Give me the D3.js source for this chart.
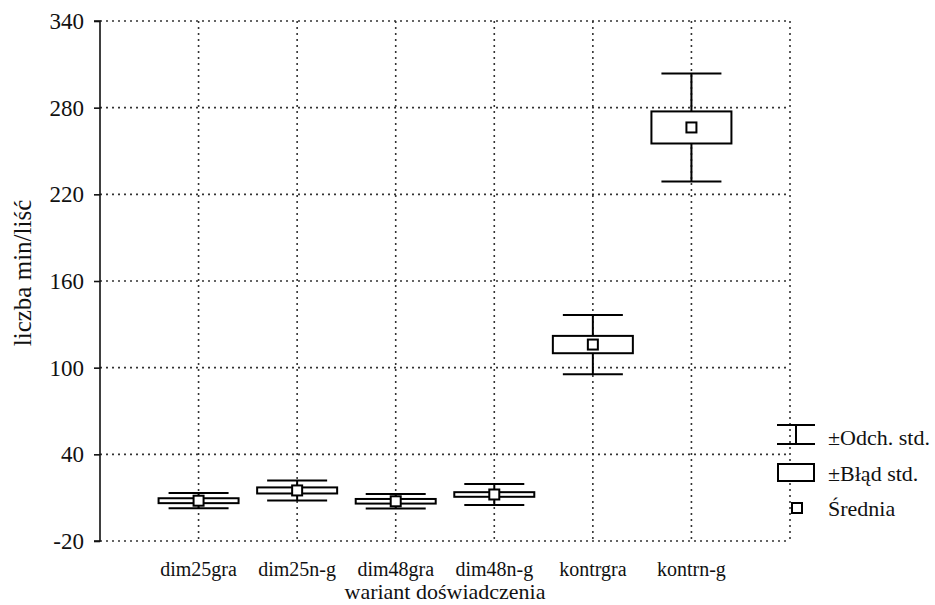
<!DOCTYPE html>
<html>
<head>
<meta charset="utf-8">
<script src="https://cdn.jsdelivr.net/npm/d3@7"></script>
<style>
  body { margin: 0; background: #fff; }
</style>
</head>
<body>
<svg id="chart" width="935" height="605"></svg>
<script>
// ---- data ----
const categories = ["dim25gra", "dim25n-g", "dim48gra", "dim48n-g", "kontrgra", "kontrn-g"];
const means      = [7.9, 15.0, 7.5, 12.2, 116.0, 266.3];
const stdErrs    = [1.7, 2.1, 1.6, 1.6, 6.0, 11.1];
const stdDevs    = [5.3, 6.9, 5.0, 7.3, 20.5, 37.4];
const yTicks     = [-20, 40, 100, 160, 220, 280, 340];
const yTitle = "liczba min/liść";
const xTitle = "wariant doświadczenia";
const legendLabels = ["±Odch. std.", "±Błąd std.", "Średnia"];

const FONT = '"Liberation Serif", monospace';
const svg = d3.select("#chart");
const pLeft = 100, pRight = 790, pTop = 21, pBottom = 541;

const x = d3.scalePoint().domain(categories).range([pLeft, pRight]).padding(1);
const y = d3.scaleLinear().domain([-20, 340]).range([pBottom, pTop]);

const grid = svg.append("g").attr("stroke", "#333").attr("stroke-width", 1.6)
  .attr("stroke-dasharray", "2,4").attr("fill", "none");
grid.selectAll("line.h").data(yTicks).join("line").attr("class", "h")
  .attr("x1", pLeft).attr("x2", pRight)
  .attr("y1", d => y(d)).attr("y2", d => y(d));
grid.selectAll("line.v").data(categories).join("line").attr("class", "v")
  .attr("x1", d => x(d)).attr("x2", d => x(d))
  .attr("y1", pTop).attr("y2", pBottom);
grid.append("line").attr("x1", pRight).attr("x2", pRight).attr("y1", pTop).attr("y2", pBottom);

// y axis
const yAxis = d3.axisLeft(y).tickValues(yTicks).tickSize(6).tickPadding(10).tickFormat(d => String(d));
const ya = svg.append("g").attr("transform", `translate(${pLeft},0)`).call(yAxis);
ya.attr("font-family", null).attr("font-size", null);
ya.select(".domain").attr("stroke", "#111").attr("stroke-width", 1.6).attr("d", `M-6,${pTop}H0V${pBottom}H-6`);
ya.selectAll(".tick line").attr("stroke", "#111").attr("stroke-width", 1.6);
ya.selectAll(".tick text").style("font-family", FONT).style("font-size", "23px").attr("fill", "#111");

// x labels
svg.append("g").selectAll("text").data(categories).join("text")
  .attr("x", d => x(d)).attr("y", 576).style("font-family", FONT).attr("fill", "#111")
  .attr("text-anchor", "middle").style("font-size", "20px").text(d => d);

// titles
svg.append("text").attr("x", (pLeft + pRight) / 2).attr("y", 599).style("font-family", FONT)
  .attr("fill", "#111").attr("text-anchor", "middle").style("font-size", "22px").text(xTitle);
svg.append("text").attr("transform", `translate(31,${(pTop + pBottom) / 2 - 8}) rotate(-90)`)
  .style("font-family", FONT).attr("fill", "#111")
  .attr("text-anchor", "middle").style("font-size", "25px").text(yTitle);

// boxes
const boxW = 80, capW = 60, meanS = 10;
const g = svg.append("g").attr("stroke", "#000").attr("stroke-width", 2).attr("fill", "#fff");
categories.forEach((c, i) => {
  const cx = x(c), m = means[i], se = stdErrs[i], sd = stdDevs[i];
  g.append("line").attr("x1", cx).attr("x2", cx).attr("y1", y(m + sd)).attr("y2", y(m - sd));
  g.append("line").attr("x1", cx - capW / 2).attr("x2", cx + capW / 2).attr("y1", y(m + sd)).attr("y2", y(m + sd));
  g.append("line").attr("x1", cx - capW / 2).attr("x2", cx + capW / 2).attr("y1", y(m - sd)).attr("y2", y(m - sd));
  g.append("rect").attr("x", cx - boxW / 2).attr("width", boxW)
    .attr("y", y(m + se)).attr("height", y(m - se) - y(m + se));
  g.append("rect").attr("x", cx - meanS / 2).attr("y", y(m) - meanS / 2)
    .attr("width", meanS).attr("height", meanS);
});

// legend
const lg = svg.append("g");
const ls = lg.append("g").attr("stroke", "#000").attr("stroke-width", 2).attr("fill", "#fff");
ls.append("line").attr("x1", 777).attr("x2", 815).attr("y1", 425).attr("y2", 425);
ls.append("line").attr("x1", 777).attr("x2", 815).attr("y1", 444).attr("y2", 444);
ls.append("line").attr("x1", 796).attr("x2", 796).attr("y1", 425).attr("y2", 444);
ls.append("rect").attr("x", 778).attr("y", 464).attr("width", 36).attr("height", 17);
ls.append("rect").attr("x", 792).attr("y", 503).attr("width", 10).attr("height", 10);
const ly = [445, 481, 516];
lg.selectAll("text").data(legendLabels).join("text")
  .attr("x", 828).attr("y", (d, i) => ly[i]).style("font-family", FONT).attr("fill", "#111")
  .style("font-size", "22px").text(d => d);
</script>
</body>
</html>
